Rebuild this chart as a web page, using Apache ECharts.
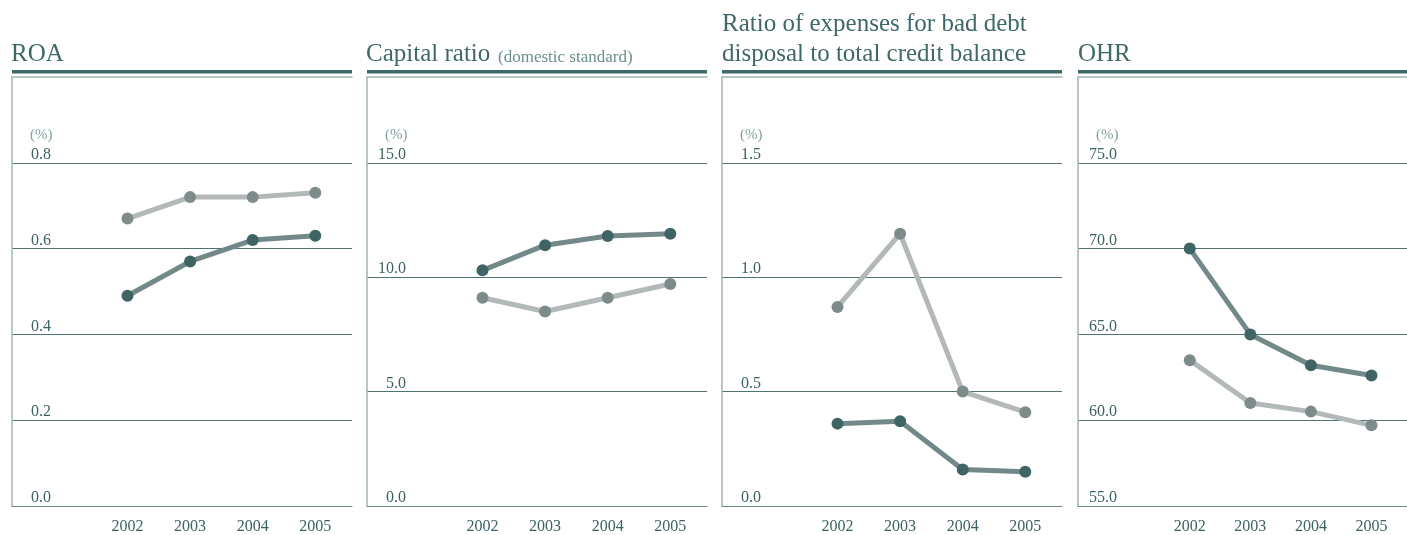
<!DOCTYPE html>
<html>
<head>
<meta charset="utf-8">
<style>
  html, body { margin: 0; padding: 0; background: #ffffff; }
  #chart { width: 1407px; height: 535px; }
</style>
<script src="https://cdn.jsdelivr.net/npm/echarts@6/dist/echarts.min.js"></script>
</head>
<body>
<div id="chart"></div>
<script>
// Fiscal years on the horizontal axis
const years = [2002, 2003, 2004, 2005];

// ROA (%)
const roaDark = [0.49, 0.57, 0.62, 0.63];
const roaLight = [0.67, 0.72, 0.72, 0.73];

// Capital ratio, domestic standard (%)
const capitalDark = [10.3, 11.4, 11.8, 11.9];
const capitalLight = [9.1, 8.5, 9.1, 9.7];

// Bad debt disposal expenses / total credit balance (%)
const badDebtDark = [0.36, 0.37, 0.16, 0.15];
const badDebtLight = [0.87, 1.19, 0.50, 0.41];

// OHR (%)
const ohrDark = [70.0, 65.0, 63.2, 62.6];
const ohrLight = [63.5, 61.0, 60.5, 59.7];

// Value-axis ranges per panel: [min, max, interval]
const roaRange = [0, 1.0, 0.2];
const capitalRange = [0, 18.75, 5];
const badDebtRange = [0, 1.875, 0.5];
const ohrRange = [55, 80, 5];

const FONT = '"Liberation Serif", "DejaVu Serif", serif';
const TEAL = '#3f6868';
const TEAL_TEXT = '#3a6262';
const FRAME = '#a3b5b5';
const GRID_LINE = '#4f7272';
const DARK_LINE = '#738989';
const DARK_DOT = '#3f6464';
const LIGHT_LINE = '#b3b8b8';
const LIGHT_DOT = '#7e8b8b';

const panelLefts = [12, 367, 722, 1078];
const panelWidth = 340;
const gridTop = 77;
const gridBottom = 28;

// Horizontal year scale: 2002 sits 115.5px in from the panel edge, 62.6px per year
const pxPerYear = 62.6;
const xMin = 2002 - 115.5 / pxPerYear;
const xMax = xMin + panelWidth / pxPerYear;

const panels = [
  { dark: roaDark, light: roaLight, range: roaRange },
  { dark: capitalDark, light: capitalLight, range: capitalRange },
  { dark: badDebtDark, light: badDebtLight, range: badDebtRange },
  { dark: ohrDark, light: ohrLight, range: ohrRange }
];

const grid = [], xAxis = [], yAxis = [], series = [];

panels.forEach((p, i) => {
  grid.push({
    left: panelLefts[i],
    width: panelWidth,
    top: gridTop,
    bottom: gridBottom,
    containLabel: false
  });
  // bottom year axis
  xAxis.push({
    type: 'value',
    gridIndex: i,
    position: 'bottom',
    min: xMin,
    max: xMax,
    axisLine: { show: true, onZero: false, lineStyle: { color: '#6d8989', width: 1 } },
    axisTick: { show: false },
    splitLine: { show: false },
    axisLabel: {
      customValues: years,
      formatter: v => String(Math.round(v)),
      color: TEAL_TEXT,
      fontFamily: FONT,
      fontSize: 16,
      margin: 13
    }
  });
  // top frame line of the plot box
  xAxis.push({
    type: 'value',
    gridIndex: i,
    position: 'top',
    min: xMin,
    max: xMax,
    axisLine: { show: true, onZero: false, lineStyle: { color: FRAME, width: 1.5 } },
    axisTick: { show: false },
    axisLabel: { show: false },
    splitLine: { show: false }
  });
  const [ymin, ymax, yint] = p.range;
  yAxis.push({
    type: 'value',
    gridIndex: i,
    min: ymin,
    max: ymax,
    interval: yint,
    axisLine: { show: true, onZero: false, lineStyle: { color: FRAME, width: 1.5 } },
    axisTick: { show: false },
    splitLine: {
      show: true,
      showMinLine: false,
      showMaxLine: false,
      lineStyle: { color: GRID_LINE, width: 1 }
    },
    axisLabel: {
      inside: true,
      align: 'right',
      verticalAlign: 'bottom',
      margin: 39,
      padding: [0, 0, 0, 0],
      color: TEAL_TEXT,
      fontFamily: FONT,
      fontSize: 16,
      showMaxLabel: true,
      formatter: v => {
        const k = (v - ymin) / yint;
        if (Math.abs(k - Math.round(k)) > 1e-6 || v > ymax - 1e-9) return '';
        return v.toFixed(1);
      }
    }
  });
  const seriesFor = (vals, lineColor, dotColor, z) => ({
    type: 'line',
    xAxisIndex: i * 2,
    yAxisIndex: i,
    data: years.map((y, k) => [y, vals[k]]),
    symbol: 'circle',
    symbolSize: 12,
    showSymbol: true,
    lineStyle: { color: lineColor, width: 5 },
    itemStyle: { color: dotColor },
    z: z,
    silent: true,
    animation: false
  });
  series.push(seriesFor(p.light, LIGHT_LINE, LIGHT_DOT, 3));
  series.push(seriesFor(p.dark, DARK_LINE, DARK_DOT, 4));
});

// Headings, rules and unit captions
const graphics = [];
panelLefts.forEach((left, i) => {
  graphics.push({
    type: 'rect',
    shape: { x: left, y: 70, width: panelWidth, height: 3.5 },
    style: { fill: TEAL },
    silent: true
  });
  graphics.push({
    type: 'text',
    style: {
      text: '(%)',
      x: left + 40.5,
      y: 135,
      align: 'right',
      verticalAlign: 'middle',
      textAlign: 'right',
      textVerticalAlign: 'middle',
      font: '15px ' + FONT,
      fill: '#86a0a0'
    },
    silent: true
  });
});

graphics.push({
  type: 'text',
  style: { text: 'ROA', x: 11, y: 54, verticalAlign: 'middle', textVerticalAlign: 'middle',
           font: '25px ' + FONT, fill: TEAL },
  silent: true
});
graphics.push({
  type: 'text',
  style: {
    text: 'Capital ratio',
    x: 366, y: 54,
    verticalAlign: 'middle', textVerticalAlign: 'middle',
    font: '25px ' + FONT, fill: TEAL
  },
  silent: true
});
graphics.push({
  type: 'text',
  style: {
    text: '(domestic standard)',
    x: 498, y: 58,
    verticalAlign: 'middle', textVerticalAlign: 'middle',
    font: '17px ' + FONT, fill: '#6c8d8d'
  },
  silent: true
});
graphics.push({
  type: 'text',
  style: {
    text: 'Ratio of expenses for bad debt\ndisposal to total credit balance',
    x: 722, y: 9,
    verticalAlign: 'top', textVerticalAlign: 'top',
    lineHeight: 30,
    font: '25px ' + FONT, fill: TEAL
  },
  silent: true
});
graphics.push({
  type: 'text',
  style: { text: 'OHR', x: 1078, y: 54, verticalAlign: 'middle', textVerticalAlign: 'middle',
           font: '25px ' + FONT, fill: TEAL },
  silent: true
});

const chart = echarts.init(document.getElementById('chart'), null, { renderer: 'canvas' });
chart.setOption({
  animation: false,
  backgroundColor: '#ffffff',
  grid: grid,
  xAxis: xAxis,
  yAxis: yAxis,
  series: series,
  graphic: graphics
});
</script>
</body>
</html>
